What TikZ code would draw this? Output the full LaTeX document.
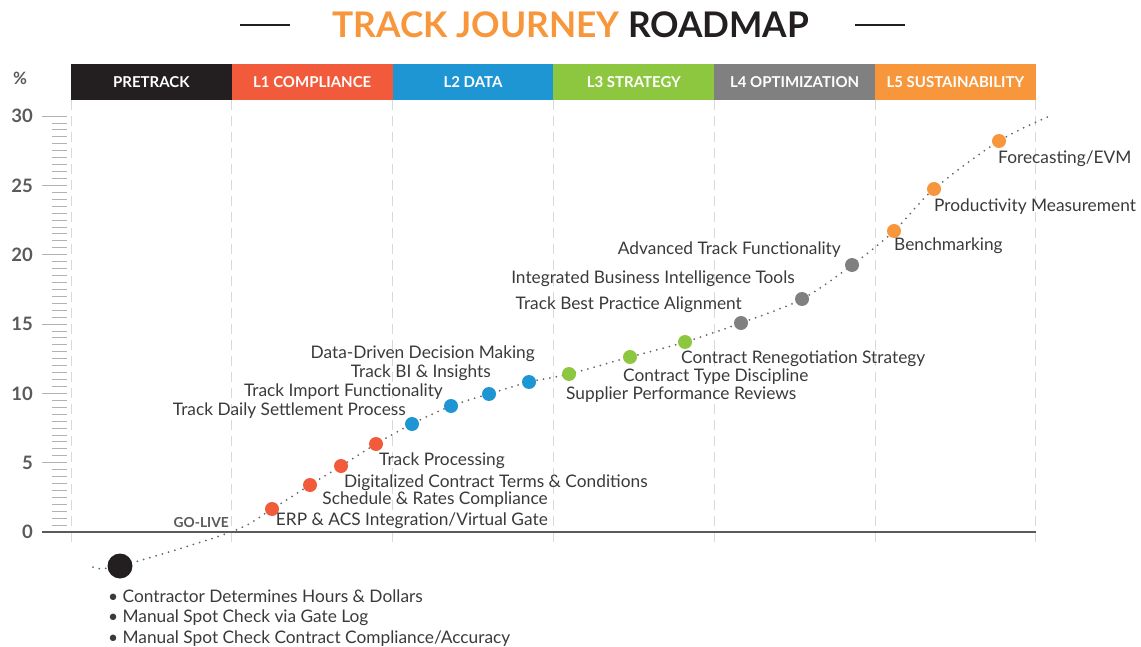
\documentclass[tikz,border=0pt]{standalone}
\usepackage{fontspec}
\setmainfont{Lato}
\definecolor{cblack}{HTML}{231F20}
\definecolor{cred}{HTML}{F15A3A}
\definecolor{cblue}{HTML}{1E96D4}
\definecolor{cgreen}{HTML}{8DC63F}
\definecolor{cgray}{HTML}{808080}
\definecolor{corange}{HTML}{F7963A}
\definecolor{txt}{HTML}{3A3A3A}
\definecolor{axisc}{HTML}{5A5A5A}
\begin{document}
\begin{tikzpicture}[x=1pt,y=-1pt,
 lbl/.style={font=\fontsize{17.3}{19}\selectfont, text=txt, inner sep=0pt},
 dotnode/.style={circle, fill=#1, minimum size=14pt, inner sep=0pt},
 hdr/.style={fill=#1, minimum width=160.8pt, minimum height=36pt, inner sep=0pt, text=white, font=\bfseries\fontsize{15}{17}\selectfont},
 ylab/.style={font=\bfseries\fontsize{18.5}{20}\selectfont, text=axisc, anchor=east, inner sep=0pt},
 guide/.style={draw=black!15, dash pattern=on 10pt off 6pt, line width=0.8pt},
 tick/.style={draw=black!30, line width=0.8pt},
 trail/.style={draw=black!60, line width=2pt, line cap=round, dash pattern=on 0pt off 6.5pt}
]
\useasboundingbox (0,0) rectangle (1141,647);
% title
\node[font=\bfseries\fontsize{35.3}{37}\selectfont, inner sep=0pt] (title) at (571,25) {\textcolor{corange}{TRACK JOURNEY} \textcolor{cblack}{ROADMAP}};
\draw[cblack, line width=2pt] (240,25) -- (290,25);
\draw[cblack, line width=2pt] (855,25) -- (905,25);
% header
\foreach \c/\t [count=\i from 0] in {cblack/PRETRACK, cred/L1 COMPLIANCE, cblue/L2 DATA, cgreen/L3 STRATEGY, cgray/L4 OPTIMIZATION, corange/L5 SUSTAINABILITY}
  \node[hdr=\c] (h\i) at ({151.4+160.8*\i},82) {\t};
\node[font=\bfseries\fontsize{17}{18}\selectfont, text=axisc, inner sep=0pt] (pct) at (20,78) {\%};
% guides
\foreach \i in {0,...,6}
  \draw[guide] ({71+160.8*\i},100) -- ({71+160.8*\i},546);
% ticks
\foreach \k in {1,...,59}
  \draw[tick] (52,{532-6.9333*\k}) -- (67,{532-6.9333*\k});
\foreach \v in {0,5,...,30}{
  \draw[tick] (42,{532-13.8667*\v}) -- (67,{532-13.8667*\v});
  \node[ylab] (y\v) at (33,{532-13.8667*\v}) {\v};
}
\draw[axisc, line width=1.2pt] (42,532) -- (1036,532);
% points
\coordinate (s0) at (93,567);
\coordinate (p0) at (120,566);
\coordinate (gl) at (231,532);
\coordinate (p1) at (272,509);
\coordinate (p2) at (310,485);
\coordinate (p3) at (341,466);
\coordinate (p4) at (376,444);
\coordinate (p5) at (412,424);
\coordinate (p6) at (451,406);
\coordinate (p7) at (489,394);
\coordinate (p8) at (529,382);
\coordinate (p9) at (569,374);
\coordinate (p10) at (630,357);
\coordinate (p11) at (685,342);
\coordinate (p12) at (741,323);
\coordinate (p13) at (802,299);
\coordinate (p14) at (852,265);
\coordinate (p15) at (894,231);
\coordinate (p16) at (934,189);
\coordinate (p17) at (999,141);
\coordinate (e0) at (1050,116);
\draw[trail] plot[smooth, tension=0.55] coordinates {(s0) (p0) (gl) (p1) (p2) (p3) (p4) (p5) (p6) (p7) (p8) (p9) (p10) (p11) (p12) (p13) (p14) (p15) (p16) (p17) (e0)};
\node[circle, fill=cblack, minimum size=25pt, inner sep=0pt] (d0) at (p0) {};
\foreach \i in {1,...,4} \node[dotnode=cred] (d\i) at (p\i) {};
\foreach \i in {5,...,8} \node[dotnode=cblue] (d\i) at (p\i) {};
\foreach \i in {9,...,11} \node[dotnode=cgreen] (d\i) at (p\i) {};
\foreach \i in {12,...,14} \node[dotnode=cgray] (d\i) at (p\i) {};
\foreach \i in {15,...,17} \node[dotnode=corange] (d\i) at (p\i) {};
% labels
\node[font=\bfseries\fontsize{13.8}{15}\selectfont, text=axisc, anchor=east, inner sep=0pt] (golive) at (229,523) {GO-LIVE};
\node[lbl, anchor=east] (t1) at (548,521) {ERP \& ACS Integration/Virtual Gate};
\node[lbl, anchor=east] (t2) at (548,500) {Schedule \& Rates Compliance};
\node[lbl, anchor=west] (t3) at (344,483) {Digitalized Contract Terms \& Conditions};
\node[lbl, anchor=west] (t4) at (379,461) {Track Processing};
\node[lbl, anchor=east] (t5) at (406,411) {Track Daily Settlement Process};
\node[lbl, anchor=east] (t6) at (443,392) {Track Import Functionality};
\node[lbl, anchor=east] (t7) at (491,373) {Track BI \& Insights};
\node[lbl, anchor=east] (t8) at (535,354) {Data-Driven Decision Making};
\node[lbl, anchor=west] (t9) at (566,395) {Supplier Performance Reviews};
\node[lbl, anchor=west] (t10) at (623,377) {Contract Type Discipline};
\node[lbl, anchor=west] (t11) at (681,359) {Contract Renegotiation Strategy};
\node[lbl, anchor=east] (t12) at (742,305) {Track Best Practice Alignment};
\node[lbl, anchor=east] (t13) at (795,279) {Integrated Business Intelligence Tools};
\node[lbl, anchor=east] (t14) at (841,250) {Advanced Track Functionality};
\node[lbl, anchor=west] (t15) at (894,246) {Benchmarking};
\node[lbl, anchor=west] (t16) at (934,207) {Productivity Measurement};
\node[lbl, anchor=west] (t17) at (998,159) {Forecasting/EVM};
\node[lbl, anchor=west] (b1) at (108,596) {• Contractor Determines Hours \& Dollars};
\node[lbl, anchor=west] (b2) at (108,618) {• Manual Spot Check via Gate Log};
\node[lbl, anchor=west] (b3) at (108,639) {• Manual Spot Check Contract Compliance/Accuracy};
\end{tikzpicture}
\end{document}
